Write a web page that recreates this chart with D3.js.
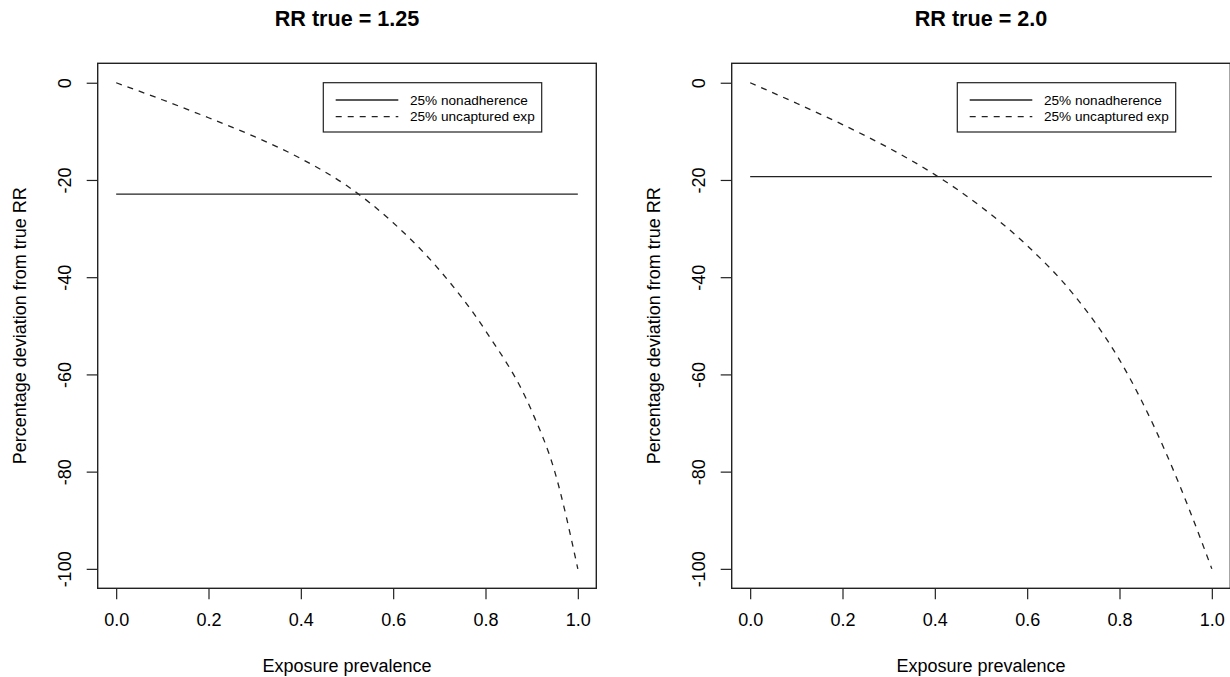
<!DOCTYPE html>
<html>
<head>
<meta charset="utf-8">
<script src="https://cdn.jsdelivr.net/npm/d3@7"></script>
<style>
body { margin: 0; background: #fff; }
svg { display: block; font-family: "Liberation Sans", Arial, sans-serif; }
</style>
</head>
<body>
<svg id="chart" width="1230" height="677"></svg>
<script>
// values
var prevalence = [0, 0.1, 0.2, 0.3, 0.4, 0.5, 0.6, 0.7, 0.8, 0.9, 0.95, 1.0];
var uncapturedLow = [0, -3.5, -7.2, -11.1, -15.6, -21.2, -28.8, -38.5, -51, -67.5, -80, -100];
var uncapturedHigh = [0, -4.2, -8.6, -13.4, -18.9, -25.5, -33.5, -43.5, -57, -76, -87.5, -100];
var nonadherence = [-22.9, -19.3];
var titles = ["RR true = 1.25", "RR true = 2.0"];
var legendLabels = ["25% nonadherence", "25% uncaptured exp"];
var xTicks = [0, 0.2, 0.4, 0.6, 0.8, 1.0];
var yTicks = [0, -20, -40, -60, -80, -100];

var svg = d3.select("#chart");
var series = [uncapturedLow, uncapturedHigh];

function drawPanel(k) {
    var ox = k * 634;
    var left = 97.7 + ox, right = 596.3 + ox, top = 63.3, bottom = 588.3;

    var x = d3.scaleLinear().domain([-0.04, 1.04]).range([left, right]);
    var y = d3.scaleLinear().domain([-104, 4]).range([bottom, top]);

    var g = svg.append("g");

    // title
    g.append("text")
        .attr("x", (left + right) / 2)
        .attr("y", 26)
        .attr("text-anchor", "middle")
        .style("font-size", "21.6px")
        .style("font-weight", "bold")
        .text(titles[k]);

    // x axis
    var xAxis = d3.axisBottom(x).tickValues(xTicks).tickSize(11).tickPadding(8)
        .tickFormat(d3.format(".1f"));
    var gx = g.append("g").attr("transform", "translate(0," + bottom + ")").call(xAxis);
    gx.select(".domain").remove();
    gx.selectAll("line").attr("stroke", "#222").attr("stroke-width", 1.2);
    gx.selectAll("text").style("font-size", "18px").attr("fill", "#000").attr("dy", "1.05em");

    // y axis, labels with a plain hyphen like R
    var yAxis = d3.axisLeft(y).tickValues(yTicks).tickSize(11)
        .tickFormat(function (d) { return String(d); });
    var gy = g.append("g").attr("transform", "translate(" + left + ",0)").call(yAxis);
    gy.select(".domain").remove();
    gy.selectAll("line").attr("stroke", "#222").attr("stroke-width", 1.2);
    gy.selectAll("text")
        .style("font-size", "18px")
        .attr("fill", "#000")
        .attr("text-anchor", "middle")
        .attr("x", null).attr("dy", null)
        .attr("transform", "translate(-32.5,0) rotate(-90)")
        .attr("dominant-baseline", "central");

    // box
    g.append("rect")
        .attr("x", left).attr("y", top)
        .attr("width", right - left).attr("height", bottom - top)
        .attr("fill", "none").attr("stroke", "#222").attr("stroke-width", 1.4);

    // axis titles
    g.append("text")
        .attr("x", (left + right) / 2)
        .attr("y", 672)
        .attr("text-anchor", "middle")
        .style("font-size", "18px")
        .text("Exposure prevalence");
    g.append("text")
        .attr("transform", "translate(" + (left - 78) + "," + ((top + bottom) / 2) + ") rotate(-90)")
        .attr("text-anchor", "middle")
        .attr("dominant-baseline", "central")
        .style("font-size", "18px")
        .text("Percentage deviation from true RR");

    // nonadherence (flat)
    g.append("line")
        .attr("x1", x(0)).attr("x2", x(1))
        .attr("y1", y(nonadherence[k])).attr("y2", y(nonadherence[k]))
        .attr("stroke", "#222").attr("stroke-width", 1.3);

    // uncaptured exposure curve
    var pts = prevalence.map(function (p, i) { return [p, series[k][i]]; });
    var line = d3.line()
        .x(function (d) { return x(d[0]); })
        .y(function (d) { return y(d[1]); })
        .curve(d3.curveMonotoneX);
    g.append("path")
        .attr("d", line(pts))
        .attr("fill", "none")
        .attr("stroke", "#222")
        .attr("stroke-width", 1.3)
        .attr("stroke-dasharray", "6,6");

    // legend
    var lx = 323.3 + ox, ly = 82.7;
    var lg = g.append("g");
    lg.append("rect")
        .attr("x", lx).attr("y", ly)
        .attr("width", 218.4).attr("height", 49.3)
        .attr("fill", "#fff").attr("stroke", "#222").attr("stroke-width", 1.2);
    legendLabels.forEach(function (lab, i) {
        var yy = ly + 17.3 + i * 16.7;
        lg.append("line")
            .attr("x1", lx + 12.4).attr("x2", lx + 75)
            .attr("y1", yy).attr("y2", yy)
            .attr("stroke", "#222").attr("stroke-width", 1.3)
            .attr("stroke-dasharray", i === 1 ? "6,6" : null);
        lg.append("text")
            .attr("x", lx + 86.7).attr("y", yy)
            .attr("dominant-baseline", "central")
            .style("font-size", "13.6px")
            .text(lab);
    });
}

drawPanel(0);
drawPanel(1);
</script>
</body>
</html>
